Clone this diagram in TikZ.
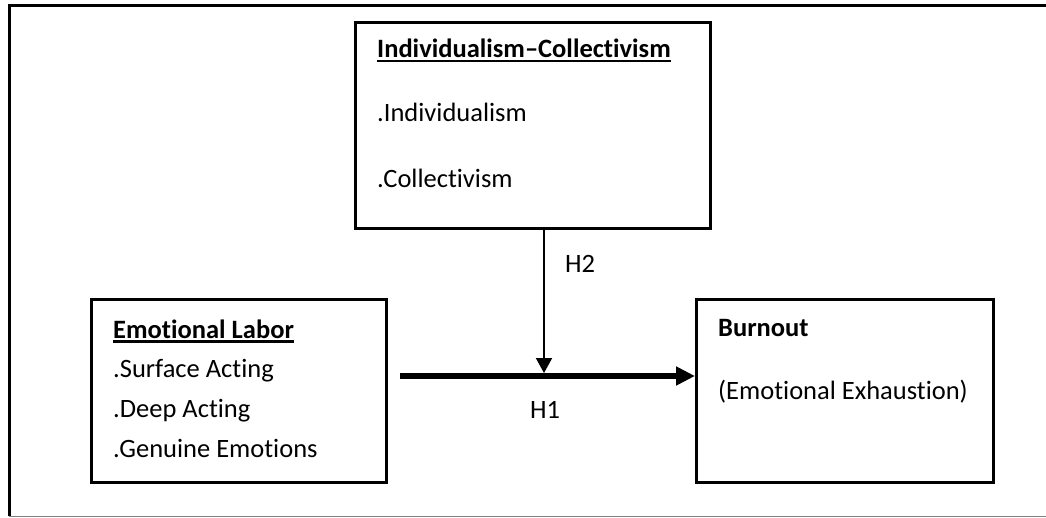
\documentclass[tikz,border=0pt]{standalone}
\usepackage{fontspec}
\setmainfont[Ligatures=NoCommon]{Carlito}
\usepackage{xcolor}
\usetikzlibrary{arrows.meta}

\newcommand{\ulhead}[1]{\setbox0\hbox{\textbf{#1}}\rlap{\rule[-4.5pt]{\wd0}{2.4pt}}\box0}

\begin{document}
\begin{tikzpicture}[x=1pt, y=-1pt,
    box/.style={draw, line width=3pt, inner sep=0pt},
    txt/.style={anchor=base west, inner sep=0pt, font=\fontsize{26.5}{30}\selectfont},
    mainarrow/.style={line width=6pt, -{Triangle[length=19pt,width=18pt]}},
    modarrow/.style={line width=2pt, -{Triangle[length=15pt,width=16pt]}}]
      % \draw[help lines, gray!50, very thin] (0,0) grid (1046,518);
      \useasboundingbox (0,0) rectangle (1046,518);

      % frame
      \draw[line width=3pt] (9,516) -- (9,5.5) -- (1046,5.5);
      \draw[gray, line width=1pt] (9,516) -- (1046,516);

      % boxes
      \node[box, minimum width=355pt, minimum height=206pt] (ic) at (533,125.5) {};
      \node[box, minimum width=295pt, minimum height=183pt] (el) at (239,391) {};
      \node[box, minimum width=297pt, minimum height=183pt] (bo) at (845,391) {};

      \node[txt] (icHead) at (377,58) {\ulhead{Individualism--Collectivism}};
      \node[txt] (icInd) at (377,122) {.Individualism};
      \node[txt] (icCol) at (377,188) {.Collectivism};

      \node[txt] (elHead) at (113,338) {\ulhead{Emotional Labor}};
      \node[txt] (elSurf) at (113,377) {.Surface Acting};
      \node[txt] (elDeep) at (113,417) {.Deep Acting};
      \node[txt] (elGen) at (113,457) {.Genuine Emotions};

      \node[txt] (boHead) at (718,337) {\textbf{Burnout}};
      \node[txt] (boExh) at (718,399) {(Emotional Exhaustion)};

      % arrows
      \coordinate (h1start) at (400,376);
      \coordinate (h2end) at (544,373);
      \draw[mainarrow] (h1start) -- (bo.west |- h1start);
      \draw[modarrow] (ic.south -| h2end) -- (h2end);
      \node[txt] (h2) at (565,273) {H2};
      \node[txt] (h1) at (530,418) {H1};
    \end{tikzpicture}
\end{document}
